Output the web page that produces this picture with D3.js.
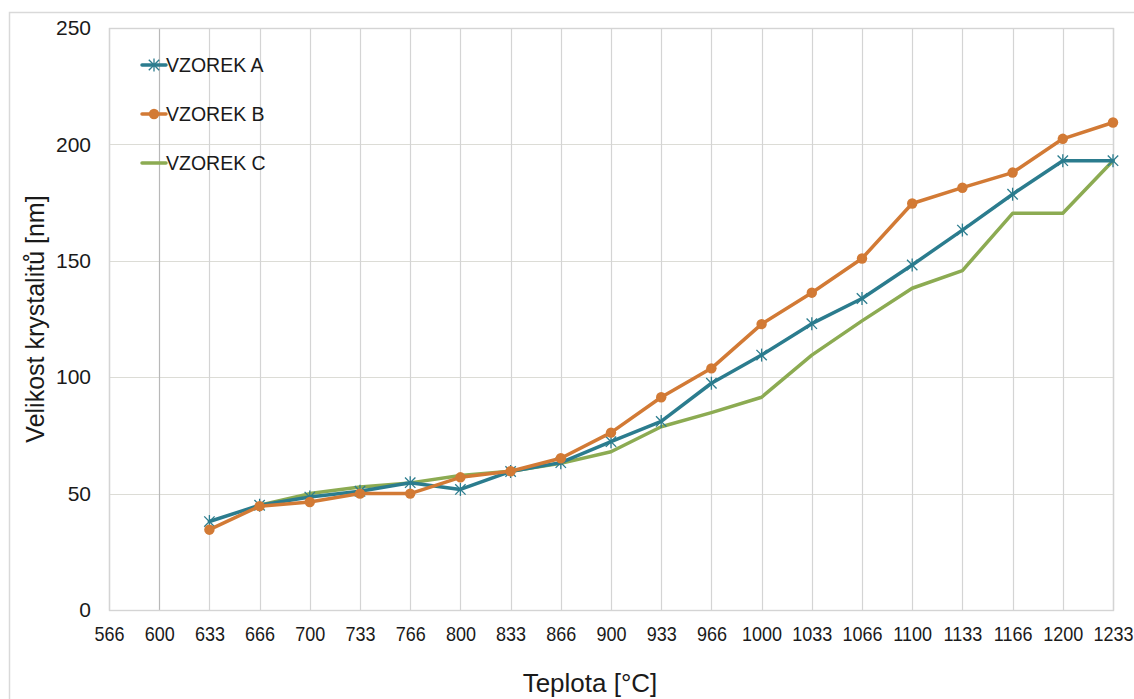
<!DOCTYPE html>
<html>
<head>
<meta charset="utf-8">
<script src="https://cdn.jsdelivr.net/npm/d3@7"></script>
<style>
  html, body { margin: 0; padding: 0; background: #fff; }
  svg { display: block; font-family: "Liberation Sans", Arial, sans-serif; }
</style>
</head>
<body>
<svg id="chart" width="1134" height="699"></svg>
<script>
// Temperature categories [°C]
const temperatures = ["566","600","633","666","700","733","766","800","833","866","900","933","966","1000","1033","1066","1100","1133","1166","1200","1233"];

// Crystallite size [nm] per sample; null = not measured
const vzorekA = [null, null, 38, 45, 48.5, 51, 54.7, 51.8, 59.5, 63.3, 72.3, 81, 97.4, 109.5, 123, 133.8, 148.2, 163.2, 178.6, 193, 193];
const vzorekB = [null, null, 34.5, 44.6, 46.4, 50, 50, 57, 59.6, 65.2, 76.2, 91.4, 103.8, 122.8, 136.3, 151, 174.6, 181.4, 187.9, 202.4, 209.4];
const vzorekC = [null, null, null, 45, 50, 52.8, 54.6, 57.8, 59.6, 63, 68, 78.7, 84.8, 91.4, 109.5, 124.2, 138.2, 145.8, 170.4, 170.4, 193];

const yTicks = [0, 50, 100, 150, 200, 250];

const seriesNames = ["VZOREK A", "VZOREK B", "VZOREK C"];
const seriesColors = ["#2b7c8e", "#d27a35", "#8cab52"];

const svg = d3.select("#chart");
const plot = { left: 109, right: 1113, top: 28, bottom: 610 };

const x = d3.scalePoint().domain(temperatures).range([plot.left, plot.right]);
const y = d3.scaleLinear().domain([0, 250]).range([plot.bottom, plot.top]);

// Outer chart border
svg.append("rect")
  .attr("x", 9.5).attr("y", 12.5)
  .attr("width", 1140).attr("height", 700)
  .attr("fill", "none").attr("stroke", "#d9d9d9").attr("stroke-width", 1.5);

// Horizontal gridlines
svg.append("g")
  .selectAll("line").data(yTicks).join("line")
  .attr("x1", plot.left).attr("x2", plot.right)
  .attr("y1", d => Math.round(y(d)) + 0.5).attr("y2", d => Math.round(y(d)) + 0.5)
  .attr("stroke", "#dcdcd6").attr("stroke-width", 1);

// Vertical gridlines
svg.append("g")
  .selectAll("line").data(temperatures).join("line")
  .attr("x1", d => Math.round(x(d)) + 0.5).attr("x2", d => Math.round(x(d)) + 0.5)
  .attr("y1", plot.top).attr("y2", plot.bottom)
  .attr("stroke", d => d === "600" ? "#b8b8b8" : "#d4d4d4").attr("stroke-width", 1.2);

// Plot frame
svg.append("rect")
  .attr("x", plot.left + 0.5).attr("y", plot.top + 0.5)
  .attr("width", plot.right - plot.left).attr("height", plot.bottom - plot.top)
  .attr("fill", "none").attr("stroke", "#d4d4d4").attr("stroke-width", 1.4);

// Axes (labels only); x labels slightly condensed so the last one fits
const xAxis = svg.append("g")
  .attr("transform", `translate(0,${plot.bottom})`)
  .call(d3.axisBottom(x).tickSize(0).tickPadding(17));
xAxis.select(".domain").remove();
xAxis.selectAll(".tick text")
  .attr("font-size", 20).attr("fill", "#1a1a1a")
  .attr("font-family", "Liberation Sans, Arial, sans-serif")
  .attr("transform", "scale(0.9,1)");

const yAxis = svg.append("g")
  .attr("transform", `translate(${plot.left},0)`)
  .call(d3.axisLeft(y).tickValues(yTicks).tickSize(0).tickPadding(18));
yAxis.select(".domain").remove();
yAxis.selectAll("text").attr("font-size", 21).attr("fill", "#1a1a1a")
  .attr("font-family", "Liberation Sans, Arial, sans-serif");

// Axis titles
svg.append("text")
  .attr("x", 590).attr("y", 692)
  .attr("text-anchor", "middle")
  .attr("font-size", 26).attr("fill", "#1a1a1a")
  .text("Teplota [°C]");

svg.append("text")
  .attr("transform", `translate(44,${(plot.top + plot.bottom) / 2}) rotate(-90)`)
  .attr("text-anchor", "middle")
  .attr("font-size", 25).attr("fill", "#1a1a1a")
  .text("Velikost krystalitů [nm]");

// Series
const seriesData = [vzorekA, vzorekB, vzorekC];
const line = d3.line()
  .defined(d => d.v !== null)
  .x(d => x(d.t))
  .y(d => y(d.v));

const toPoints = arr => temperatures.map((t, i) => ({ t, v: arr[i] }));

function asterisk(g, cx, cy, r, color) {
  const a = r * 0.8;
  const segs = [[-a, -a, a, a], [-a, a, a, -a], [0, -r, 0, r]];
  g.append("g").selectAll("line").data(segs).join("line")
    .attr("x1", s => cx + s[0]).attr("y1", s => cy + s[1])
    .attr("x2", s => cx + s[2]).attr("y2", s => cy + s[3])
    .attr("stroke", color).attr("stroke-width", 1.3);
}

// Draw C first, then A and B on top
const drawOrder = [2, 0, 1];
drawOrder.forEach(si => {
  const pts = toPoints(seriesData[si]);
  const g = svg.append("g");
  g.append("path")
    .datum(pts)
    .attr("d", line)
    .attr("fill", "none")
    .attr("stroke", seriesColors[si])
    .attr("stroke-width", 3.5)
    .attr("stroke-linejoin", "round")
    .attr("stroke-linecap", "round");
  const valid = pts.filter(d => d.v !== null);
  if (si === 0) {
    valid.forEach(d => asterisk(g, x(d.t), y(d.v), 6.5, seriesColors[0]));
  } else if (si === 1) {
    g.selectAll("circle").data(valid).join("circle")
      .attr("cx", d => x(d.t)).attr("cy", d => y(d.v))
      .attr("r", 5.2)
      .attr("fill", seriesColors[1]);
  }
});

// Legend
const legendRows = [65, 114, 163];
seriesNames.forEach((name, i) => {
  const g = svg.append("g");
  const cy = legendRows[i];
  g.append("line")
    .attr("x1", 142).attr("x2", 166).attr("y1", cy).attr("y2", cy)
    .attr("stroke", seriesColors[i]).attr("stroke-width", 3.5).attr("stroke-linecap", "round");
  if (i === 0) asterisk(g, 154, cy, 6.5, seriesColors[0]);
  if (i === 1) g.append("circle").attr("cx", 154).attr("cy", cy).attr("r", 5.2).attr("fill", seriesColors[1]);
  g.append("text")
    .attr("x", 166).attr("y", cy + 7)
    .attr("font-size", 19.5).attr("fill", "#1a1a1a")
    .text(name);
});
</script>
</body>
</html>
